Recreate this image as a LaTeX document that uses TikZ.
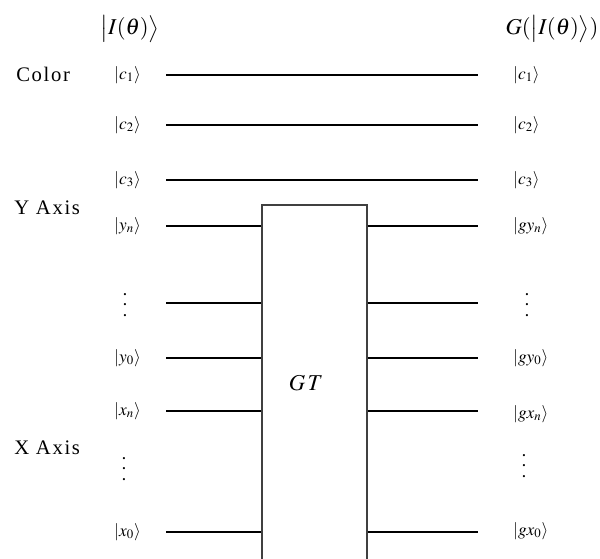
\documentclass[tikz,border=0pt]{standalone}
\usepackage{mathptmx}
\usepackage{fontspec}
\setmainfont{Liberation Serif}[LetterSpace=8]
\newcommand{\kvdots}{\vbox{\baselineskip=8pt\lineskiplimit=0pt\hbox{\bfseries .}\hbox{\bfseries .}\hbox{\bfseries .}}}
\begin{document}
\begin{tikzpicture}[x=0.75pt,y=-0.75pt,
  wire/.style={line width=1.5pt,black},
  gatebox/.style={draw=black!75,line width=0.9pt,fill=white,inner sep=0pt,
    minimum width=78.75pt,minimum height=296.25pt},
  inket/.style={anchor=east,inner sep=0pt,font=\fontsize{13}{15}\selectfont},
  outket/.style={anchor=west,inner sep=0pt,font=\fontsize{13}{15}\selectfont},
  grouplabel/.style={anchor=west,inner sep=0pt,font=\fontsize{15.5}{18}\selectfont},
  header/.style={inner sep=0pt,font=\fontsize{17}{20}\selectfont},
  dotsnode/.style={inner sep=0pt}]
\useasboundingbox (0,0) rectangle (600,559);
\clip (0,0) rectangle (600,559);

% headers
\node[header] (inhead) at (130,29) {$\bigl|I(\theta)\bigr\rangle$};
\node[header] (outhead) at (552,29) {$G(\bigl|I(\theta)\bigr\rangle)$};

% register names
\node[grouplabel] (color) at (16,74) {Color};
\node[grouplabel] (yaxis) at (14,208) {Y Axis};
\node[grouplabel] (xaxis) at (14,448) {X Axis};

% the GT gate
\node[gatebox] (gt) at (314.5,402.5) {};
\node[inner sep=0pt,font=\fontsize{17}{19}\selectfont] (gtlabel) at (306,383) {$G\,T$};

% wire end points
\coordinate (c1L) at (166,75);  \coordinate (c1R) at (478,75);
\coordinate (c2L) at (166,125); \coordinate (c2R) at (478,125);
\coordinate (c3L) at (166,180); \coordinate (c3R) at (478,180);
\coordinate (ynL) at (166,226); \coordinate (ynR) at (478,226);
\coordinate (ydL) at (166,303); \coordinate (ydR) at (478,303);
\coordinate (y0L) at (166,358); \coordinate (y0R) at (478,358);
\coordinate (xnL) at (166,411); \coordinate (xnR) at (478,411);
\coordinate (x0L) at (166,532); \coordinate (x0R) at (478,532);

% color qubits pass straight through
\draw[wire] (c1L) -- (c1R);
\draw[wire] (c2L) -- (c2R);
\draw[wire] (c3L) -- (c3R);

% position qubits enter and leave the gate
\foreach \w in {yn,yd,y0,xn,x0}{
  \draw[wire] (\w L) -- (\w L -| gt.west);
  \draw[wire] (\w R -| gt.east) -- (\w R);
}

% input kets
\node[inket] (kc1) at (141,75) {$|c_1\rangle$};
\node[inket] (kc2) at (141,125) {$|c_2\rangle$};
\node[inket] (kc3) at (141,180) {$|c_3\rangle$};
\node[inket] (kyn) at (141,226) {$|y_n\rangle$};
\node[dotsnode] (kyd) at (125,305) {\kvdots};
\node[inket] (ky0) at (141,358) {$|y_0\rangle$};
\node[inket] (kxn) at (141,411) {$|x_n\rangle$};
\node[dotsnode] (kxd) at (124,469) {\kvdots};
\node[inket] (kx0) at (141,532) {$|x_0\rangle$};

% output kets
\node[outket] (oc1) at (513,75) {$|c_1\rangle$};
\node[outket] (oc2) at (513,125) {$|c_2\rangle$};
\node[outket] (oc3) at (513,180) {$|c_3\rangle$};
\node[outket] (oyn) at (513,226) {$|gy_n\rangle$};
\node[dotsnode] (oyd) at (527,305) {\kvdots};
\node[outket] (oy0) at (513,358) {$|gy_0\rangle$};
\node[outket] (oxn) at (513,414) {$|gx_n\rangle$};
\node[dotsnode] (oxd) at (524,466) {\kvdots};
\node[outket] (ox0) at (513,531) {$|gx_0\rangle$};
\end{tikzpicture}
\end{document}
